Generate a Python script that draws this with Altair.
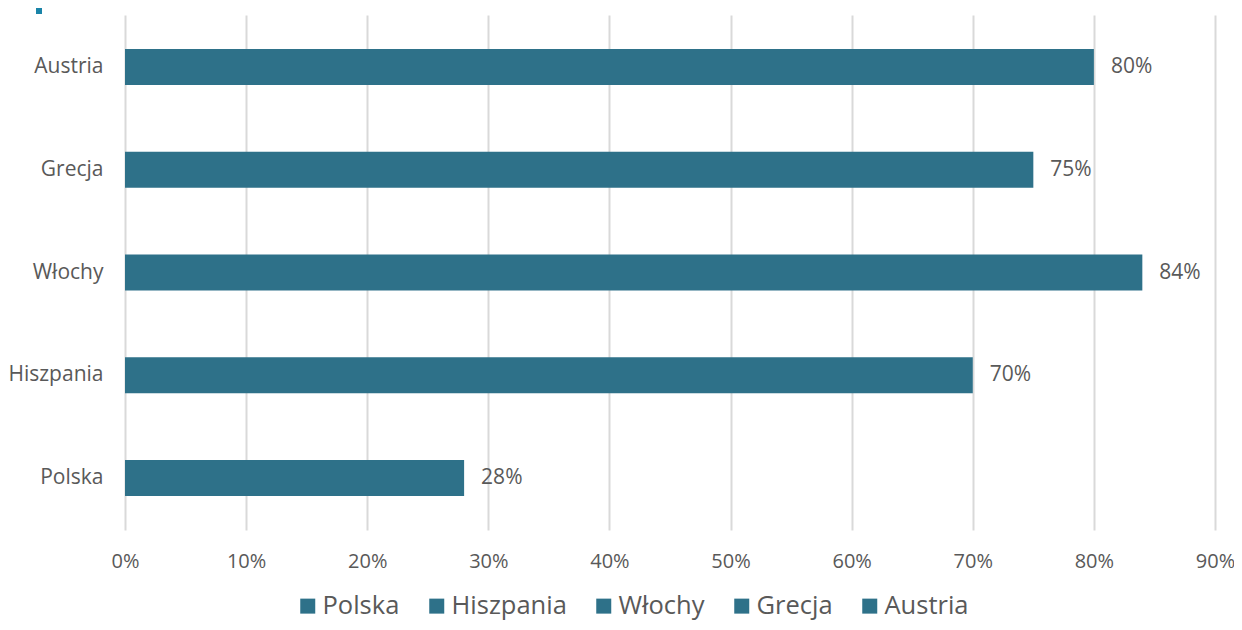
import altair as alt
import pandas as pd

countries = ["Austria", "Grecja", "Włochy", "Hiszpania", "Polska"]
values = [0.80, 0.75, 0.84, 0.70, 0.28]
legend_order = ["Polska", "Hiszpania", "Włochy", "Grecja", "Austria"]
x_ticks = [0, 0.1, 0.2, 0.3, 0.4, 0.5, 0.6, 0.7, 0.8, 0.9]

BAR = "#2E7189"
GREY = "#595959"
FONT = "Open Sans"

df = pd.DataFrame({"country": countries, "value": values})

y_enc = alt.Y("country:N", sort=countries, title=None,
              scale=alt.Scale(paddingInner=0.65, paddingOuter=0.33),
              axis=alt.Axis(domain=False, ticks=False, labelFontSize=21,
                            labelColor=GREY, labelFont=FONT, labelPadding=22))
x_enc = alt.X("value:Q", title=None,
              scale=alt.Scale(domain=[0, 0.9], nice=False),
              axis=alt.Axis(values=x_ticks, format=".0%", domain=False, ticks=False,
                            grid=True, gridColor="#D9D9D9", gridWidth=2,
                            labelFontSize=20, labelColor=GREY, labelFont=FONT,
                            labelPadding=21, labelFlush=False))

bars = alt.Chart(df).mark_bar(color=BAR).encode(
    x=x_enc, y=y_enc,
    color=alt.Color("country:N",
                    scale=alt.Scale(domain=legend_order, range=[BAR] * 5),
                    legend=alt.Legend(orient="none", legendX=170, legendY=578,
                                      direction="horizontal", title=None,
                                      symbolType="square", symbolSize=225,
                                      symbolStrokeWidth=0, labelFontSize=25.5,
                                      labelColor=GREY, labelFont=FONT,
                                      columnPadding=24, labelOffset=2)),
)

labels = alt.Chart(df).mark_text(align="left", baseline="middle", dx=17,
                                 fontSize=21, color=GREY, font=FONT).encode(
    x=alt.X("value:Q"), y=alt.Y("country:N", sort=countries),
    text=alt.Text("value:Q", format=".0%"),
)

accent = alt.Chart(df).mark_rule(color="#1A84A8", strokeWidth=6).encode(
    x=alt.value(-86), y=alt.value(-16), y2=alt.value(-1)
)

chart = alt.layer(bars, labels, accent).properties(
    width=1090, height=515,
    autosize=alt.AutoSizeParams(type="none"),
    padding={"left": 117, "top": 7, "right": 19, "bottom": 92},
    background="white",
).configure_view(stroke=None)

chart.save("out.html", embed_options={"renderer": "svg", "actions": False})
